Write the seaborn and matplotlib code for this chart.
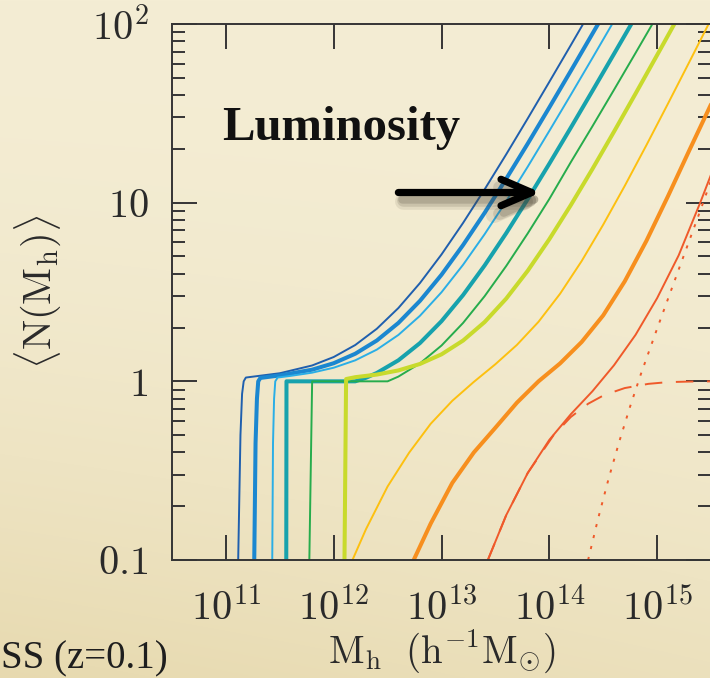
import numpy as np
import pandas as pd
import matplotlib
matplotlib.use("Agg")
import matplotlib.pyplot as plt
from matplotlib.ticker import FixedLocator, FixedFormatter, LogLocator, NullFormatter
from matplotlib.transforms import ScaledTranslation
import seaborn as sns

# Mean occupation <N(M_h)> of luminosity-threshold samples, faint -> bright.
# Each curve: log10 halo mass and mean number of galaxies per halo.
logm_1 = [11.114, 11.135, 11.150, 11.165, 11.185, 11.5, 11.8, 12.0, 12.2, 12.4, 12.6, 12.8,
          13.0, 13.2, 13.4, 13.6, 13.8, 14.0, 14.2, 14.4]
n_1 = [0.1, 0.5, 0.85, 1.0, 1.05, 1.110, 1.227, 1.368, 1.597, 1.969, 2.572, 3.548,
       5.13, 7.70, 11.87, 18.63, 29.6, 47.4, 76.2, 123]

logm_2 = [11.263, 11.275, 11.288, 11.300, 11.32, 11.5, 11.8, 12.0, 12.2, 12.4, 12.6, 12.8,
          13.0, 13.2, 13.4, 13.6, 13.8, 14.0, 14.2, 14.4, 14.6]
n_2 = [0.1, 0.45, 0.8, 1.0, 1.045, 1.079, 1.162, 1.263, 1.427, 1.692, 2.122, 2.82,
       3.95, 5.79, 8.77, 13.6, 21.4, 34.1, 54.7, 88.2, 142]

logm_3 = [11.430, 11.437, 11.447, 11.458, 11.48, 11.6, 11.8, 12.0, 12.2, 12.4, 12.6, 12.8,
          13.0, 13.2, 13.4, 13.6, 13.8, 14.0, 14.2, 14.4, 14.6]
n_3 = [0.1, 0.45, 0.8, 1.0, 1.05, 1.073, 1.118, 1.192, 1.311, 1.505, 1.818, 2.327,
       3.152, 4.49, 6.66, 10.18, 15.9, 25.2, 40.2, 64.5, 104]

logm_4 = [11.560, 11.562, 12.2, 12.3, 12.4, 12.6, 12.8, 13.0, 13.2, 13.4, 13.6, 13.8,
          14.0, 14.2, 14.4, 14.6, 14.8]
n_4 = [0.1, 1.0, 1.0, 1.047, 1.114, 1.311, 1.637, 2.171, 3.039, 4.451, 6.744, 10.47,
       16.51, 26.31, 42.21, 68.0, 109.8]

logm_5 = [11.774, 11.800, 12.5, 12.6, 12.8, 13.0, 13.2, 13.4, 13.6, 13.8, 14.0, 14.2,
          14.4, 14.6, 14.8, 15.0]
n_5 = [0.1, 1.0, 1.0, 1.063, 1.260, 1.586, 2.122, 2.996, 4.418, 6.730, 10.48, 16.87,
       26.76, 42.8, 68.8, 111]

logm_6 = [12.100, 12.115, 12.2, 12.4, 12.6, 12.8, 13.0, 13.2, 13.4, 13.6, 13.8, 14.0,
          14.2, 14.4, 14.6, 14.8, 15.0, 15.2]
n_6 = [0.1, 1.03, 1.055, 1.091, 1.151, 1.251, 1.416, 1.691, 2.147, 2.903, 4.158, 6.242,
       9.698, 15.43, 24.95, 40.75, 66.97, 110.5]

logm_7 = [12.174, 12.3, 12.5, 12.7, 12.9, 13.1, 13.3, 13.5, 13.7, 13.9, 14.1, 14.3,
          14.5, 14.7, 14.9, 15.1, 15.3, 15.5]
n_7 = [0.1, 0.149, 0.258, 0.399, 0.579, 0.778, 0.993, 1.247, 1.600, 2.154, 3.092, 4.71,
       7.53, 12.42, 20.93, 35.74, 61.46, 106.2]

logm_8 = [12.742, 12.9, 13.1, 13.3, 13.5, 13.7, 13.9, 14.1, 14.3, 14.5, 14.7, 14.9,
          15.1, 15.3, 15.5, 15.55]
n_8 = [0.1, 0.16, 0.27, 0.40, 0.55, 0.76, 1.0, 1.26, 1.66, 2.34, 3.63, 6.1,
       10.84, 19.7, 35.5, 41.0]

# brightest sample: total, centrals and satellites
logm_9 = [13.43, 13.6, 13.8, 14.0, 14.2, 14.4, 14.6, 14.8, 15.0, 15.2, 15.4, 15.505, 15.55]
n_9 = [0.1, 0.178, 0.307, 0.47, 0.655, 0.88, 1.23, 1.82, 2.92, 5.07, 10.0, 14.6, 17.2]
logm_9_cen = [13.43, 13.6, 13.8, 14.04, 14.2, 14.36, 14.509, 14.7, 14.919, 15.1, 15.3, 15.55]
n_9_cen = [0.1, 0.178, 0.307, 0.5, 0.632, 0.749, 0.838, 0.917, 0.968, 0.99, 0.997, 1.0]
logm_9_sat = [14.36, 14.45, 14.55, 14.65, 14.75, 14.85, 15.0, 15.2, 15.4, 15.55]
n_9_sat = [0.1, 0.168, 0.285, 0.462, 0.724, 1.10, 1.97, 4.22, 9.0, 16.2]

colors = ["#1f5fae", "#1b87d0", "#2aaee6", "#17a2ad", "#26ac4c",
          "#c8da2c", "#fdc010", "#f78f1e", "#ef5a2a"]

x_ticks = [1e11, 1e12, 1e13, 1e14, 1e15]
x_ticklabels = [r"$10^{11}$", r"$10^{12}$", r"$10^{13}$", r"$10^{14}$", r"$10^{15}$"]
y_ticks = [0.1, 1, 10, 100]
y_ticklabels = [r"$0.1$", r"$1$", r"$10$", r"$10^2$"]

sns.set_style("ticks")
plt.rcParams["font.family"] = ["DejaVu Serif"]
plt.rcParams["mathtext.fontset"] = "cm"

W, H = 710, 678
fig = plt.figure(figsize=(W / 100, H / 100), dpi=100)

# parchment backdrop
yy, xx = np.mgrid[0:1:H * 1j, 0:1:W * 1j]
shade = 0.11 * yy ** 2.2 + 0.06 * (1 - xx) * yy ** 1.5
base = np.array([244, 237, 212]) / 255
tint = np.array([0.30, 0.45, 0.85])
paper = np.clip(base[None, None, :] - shade[..., None] * tint[None, None, :], 0, 1)
bg = fig.add_axes([0, 0, 1, 1], zorder=-10)
bg.imshow(paper, aspect="auto", interpolation="bilinear")
bg.axis("off")

ax = fig.add_axes([172 / W, (H - 560) / H, (711 - 172) / W, (560 - 24) / H])
ax.set_facecolor("none")
ax.set_xscale("log")
ax.set_yscale("log")

thin, thick = 1.4, 2.9
series = [
    (logm_1, n_1, colors[0], thin, "-"),
    (logm_2, n_2, colors[1], thick, "-"),
    (logm_3, n_3, colors[2], thin, "-"),
    (logm_4, n_4, colors[3], thick, "-"),
    (logm_5, n_5, colors[4], thin, "-"),
    (logm_6, n_6, colors[5], thick, "-"),
    (logm_7, n_7, colors[6], thin, "-"),
    (logm_8, n_8, colors[7], thick, "-"),
    (logm_9, n_9, colors[8], thin, "-"),
    (logm_9_cen, n_9_cen, colors[8], thin, (0, (9, 7))),
    (logm_9_sat, n_9_sat, colors[8], thin, (0, (1.6, 4.2))),
]
for lm, n, col, lw, ls in series:
    df = pd.DataFrame({"M": 10 ** np.asarray(lm), "N": n})
    sns.lineplot(data=df, x="M", y="N", ax=ax, color=col, lw=lw, linestyle=ls,
                 estimator=None, sort=False, legend=False)

ax.set_xlim(10 ** 10.5, 10 ** 15.5)
ax.set_ylim(0.1, 100)

ink = "#353535"
ax.xaxis.set_major_locator(FixedLocator(x_ticks))
ax.xaxis.set_major_formatter(FixedFormatter(x_ticklabels))
ax.xaxis.set_minor_locator(LogLocator(base=10, subs=np.arange(2, 10)))
ax.xaxis.set_minor_formatter(NullFormatter())
ax.yaxis.set_major_locator(FixedLocator(y_ticks))
ax.yaxis.set_major_formatter(FixedFormatter(y_ticklabels))
ax.yaxis.set_minor_locator(LogLocator(base=10, subs=np.arange(2, 10)))
ax.yaxis.set_minor_formatter(NullFormatter())
ax.tick_params(which="both", direction="in", top=True, right=True, width=1.4, color=ink)
ax.tick_params(which="major", length=18)
ax.tick_params(which="minor", length=9.4)
ax.tick_params(axis="x", which="major", pad=20, labelsize=29, labelcolor="#2a2a2a")
ax.tick_params(axis="y", which="major", pad=17, labelsize=29, labelcolor="#2a2a2a")
for sp in ax.spines.values():
    sp.set_linewidth(1.4)
    sp.set_color(ink)

ax.set_xlabel(r"$\mathrm{M_h\ \ (h^{-1}M_{\odot})}$", fontsize=28, color="#2a2a2a")
ax.set_ylabel(r"$\langle \mathrm{N(M_h)} \rangle$", fontsize=29, color="#2a2a2a")
ax.xaxis.set_label_coords(0.5, (560 - 628) / 536)
ax.yaxis.set_label_coords((64 - 172) / 539, 0.5)

# luminosity arrow with a soft drop shadow
arrow_y = 11.4
tail, tip = 10 ** 12.60, 10 ** 13.92
style = "->,head_length=2.2,head_width=0.95"
for dx, dy, a, w in [(5, -9, 0.10, 12), (5, -8, 0.15, 9), (4, -7, 0.20, 6)]:
    sh = ax.transData + ScaledTranslation(dx / 100, dy / 100, fig.dpi_scale_trans)
    ax.annotate("", xy=(tip, arrow_y), xytext=(tail, arrow_y), xycoords=sh, textcoords=sh,
                arrowprops=dict(arrowstyle=style, lw=w, color="#4a4232", alpha=a,
                                shrinkA=0, shrinkB=0, mutation_scale=10, capstyle="round"))
ax.annotate("", xy=(tip, arrow_y), xytext=(tail, arrow_y),
            arrowprops=dict(arrowstyle=style, lw=5.2, color="black",
                            shrinkA=0, shrinkB=0, mutation_scale=10, capstyle="round"))

fig.text(222 / W, (H - 140) / H, "Luminosity", fontsize=35, fontweight="bold",
         family=["Liberation Serif", "DejaVu Serif"], color="#111111", ha="left", va="baseline")
fig.text(1 / W, (H - 668) / H, "SS (z=0.1)", fontsize=28,
         family=["Liberation Serif", "DejaVu Serif"], color="#1e1e1e", ha="left", va="baseline")

fig.savefig("out.png", dpi=100)
